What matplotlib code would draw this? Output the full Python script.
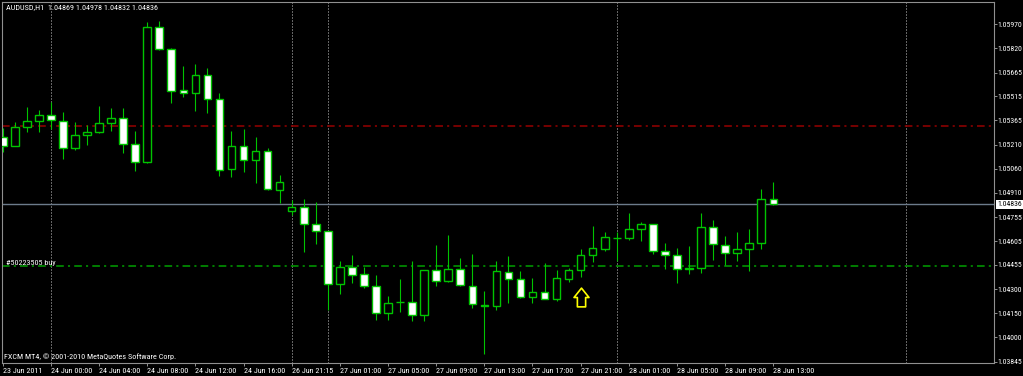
import matplotlib
matplotlib.use("Agg")
import matplotlib.pyplot as plt
import matplotlib.font_manager as fm
from matplotlib.path import Path
from matplotlib.transforms import blended_transform_factory

# narrow font if there is one, else a plain sans that gets sized down below
installed = {f.name for f in fm.fontManager.ttflist}
plt.rcParams["font.family"] = [n for n in ["Liberation Sans Narrow", "Roboto Condensed",
                                           "Liberation Sans", "DejaVu Sans"] if n in installed]
plt.rcParams["lines.scale_dashes"] = False

# AUDUSD H1, bars from 23 Jun 20:00 to 28 Jun 13:00
symbol = "AUDUSD,H1"
opens = [1.05262, 1.05203, 1.05325, 1.05363, 1.05400, 1.05363, 1.05189, 1.05273, 1.05291, 1.05346,
         1.05378, 1.05216, 1.05101, 1.05955, 1.05816, 1.05554, 1.05535, 1.05652, 1.05501, 1.05060,
         1.05203, 1.05113, 1.05174, 1.04926, 1.04796, 1.04817, 1.04710, 1.04668, 1.04332, 1.04439,
         1.04395, 1.04321, 1.04149, 1.04220, 1.04220, 1.04137, 1.04420, 1.04355, 1.04430, 1.04323,
         1.04203, 1.04193, 1.04409, 1.04363, 1.04250, 1.04282, 1.04242, 1.04367, 1.04420, 1.04515,
         1.04556, 1.04626, 1.04626, 1.04678, 1.04712, 1.04540, 1.04515, 1.04426, 1.04433, 1.04695,
         1.04581, 1.04527, 1.04552, 1.04590, 1.04869]
highs = [1.05317, 1.05356, 1.05447, 1.05430, 1.05482, 1.05419, 1.05353, 1.05334, 1.05457, 1.05445,
         1.05445, 1.05298, 1.05983, 1.05991, 1.05818, 1.05707, 1.05718, 1.05695, 1.05539, 1.05298,
         1.05308, 1.05262, 1.05189, 1.05021, 1.04863, 1.04869, 1.04852, 1.04670, 1.04479, 1.04517,
         1.04439, 1.04391, 1.04260, 1.04365, 1.04479, 1.04425, 1.04580, 1.04643, 1.04498, 1.04523,
         1.04290, 1.04481, 1.04510, 1.04418, 1.04374, 1.04468, 1.04422, 1.04437, 1.04552, 1.04701,
         1.04660, 1.04661, 1.04779, 1.04723, 1.04714, 1.04595, 1.04559, 1.04573, 1.04779, 1.04737,
         1.04636, 1.04663, 1.04678, 1.04930, 1.04978]
lows = [1.05167, 1.05203, 1.05293, 1.05293, 1.05308, 1.05119, 1.05178, 1.05210, 1.05283, 1.05300,
        1.05157, 1.05048, 1.05094, 1.05808, 1.05476, 1.05510, 1.05426, 1.05413, 1.05016, 1.05006,
        1.05039, 1.04968, 1.04928, 1.04846, 1.04769, 1.04537, 1.04586, 1.04170, 1.04273, 1.04338,
        1.04307, 1.04107, 1.04107, 1.04159, 1.04103, 1.04103, 1.04321, 1.04345, 1.04321, 1.04185,
        1.03893, 1.04170, 1.04212, 1.04244, 1.04212, 1.04241, 1.04227, 1.04348, 1.04380, 1.04472,
        1.04544, 1.04481, 1.04611, 1.04605, 1.04523, 1.04426, 1.04342, 1.04395, 1.04405, 1.04485,
        1.04452, 1.04477, 1.04418, 1.04552, 1.04832]
closes = [1.05203, 1.05325, 1.05363, 1.05400, 1.05365, 1.05189, 1.05274, 1.05293, 1.05346, 1.05378,
          1.05216, 1.05102, 1.05955, 1.05816, 1.05550, 1.05535, 1.05649, 1.05501, 1.05050, 1.05203,
          1.05113, 1.05174, 1.04931, 1.04978, 1.04821, 1.04710, 1.04668, 1.04332, 1.04439, 1.04392,
          1.04321, 1.04149, 1.04216, 1.04222, 1.04140, 1.04422, 1.04351, 1.04430, 1.04326, 1.04206,
          1.04193, 1.04414, 1.04365, 1.04250, 1.04283, 1.04242, 1.04370, 1.04420, 1.04515, 1.04559,
          1.04628, 1.04627, 1.04678, 1.04710, 1.04544, 1.04515, 1.04426, 1.04437, 1.04695, 1.04584,
          1.04527, 1.04552, 1.04592, 1.04869, 1.04836]

tick_bars = [0, 4, 8, 12, 16, 20, 24, 28, 32, 36, 40, 44, 48, 52, 56, 60, 64]
tick_labels = ["23 Jun 2011", "24 Jun 00:00", "24 Jun 04:00", "24 Jun 08:00", "24 Jun 12:00",
               "24 Jun 16:00", "26 Jun 21:15", "27 Jun 01:00", "27 Jun 05:00", "27 Jun 09:00",
               "27 Jun 13:00", "27 Jun 17:00", "27 Jun 21:00", "28 Jun 01:00", "28 Jun 05:00",
               "28 Jun 09:00", "28 Jun 13:00"]
separator_bars = [4, 24, 27, 51, 75]
price_ticks = [1.05970, 1.05820, 1.05665, 1.05515, 1.05365, 1.05210, 1.05060, 1.04910,
               1.04755, 1.04605, 1.04455, 1.04300, 1.04150, 1.04000, 1.03845]

stop_level = 1.05330
order_level = 1.04450
order_label = "#50223505 buy"
arrow_bar = 48
arrow_price = 1.04254
bid = closes[-1]

green = "#00c400"
txt = "white"
header = f"{symbol}  {opens[-1]:.5f} {highs[-1]:.5f} {lows[-1]:.5f} {closes[-1]:.5f}"

fig = plt.figure(figsize=(10.23, 3.76), dpi=100, facecolor="black")
ax = fig.add_axes([2 / 1023, 13 / 376, 992 / 1023, 361 / 376], facecolor="black")

# size the font so the header line is as wide as in the terminal (~151 px)
probe = fig.text(0, 0, header, fontsize=10)
w = probe.get_window_extent(renderer=fig.canvas.get_renderer()).width
probe.remove()
fs = 10 * 151 / w

# day separators
for b in separator_bars:
    ax.axvline(b, color="#c8c8c8", lw=0.72, linestyle=(0, (0.72, 1.44)), zorder=1)

# order / stop levels
ax.axhline(stop_level, color="#8b0000", lw=1.2, linestyle=(0, (5.5, 3, 1.5, 3)), zorder=1)
ax.axhline(order_level, color="#00a000", lw=1.1, linestyle=(0, (5.5, 3, 1.5, 3)), zorder=1)
ax.axhline(bid, color="#6c7b8b", lw=1.0, zorder=2)

# candles
x = list(range(len(opens)))
bottoms = [min(o, c) for o, c in zip(opens, closes)]
heights = [abs(c - o) for o, c in zip(opens, closes)]
faces = ["white" if c < o else "black" for o, c in zip(opens, closes)]
ax.vlines(x, lows, highs, color=green, lw=0.8, zorder=3)
ax.bar(x, heights, width=0.63, bottom=bottoms, color=faces, edgecolor=green,
       linewidth=1.0, zorder=4)

# buy arrow
arrow = Path([(0, 0.5), (0.4, 0), (0.22, 0), (0.22, -0.5), (-0.22, -0.5), (-0.22, 0),
              (-0.4, 0), (0, 0.5)], closed=True)
ax.plot([arrow_bar], [arrow_price], marker=arrow, markersize=13.5, markerfacecolor="none",
        markeredgecolor="#ffff00", markeredgewidth=1.2, linestyle="none", zorder=5)

ax.set_xlim(-0.06, 82.33)
ax.set_ylim(1.03837, 1.06110)

for s in ax.spines.values():
    s.set_color("#909090")
    s.set_linewidth(0.8)

ax.yaxis.tick_right()
ax.set_yticks(price_ticks)
ax.set_yticklabels([f"{p:.5f}" for p in price_ticks])
ax.tick_params(axis="y", colors="#909090", labelcolor=txt, length=2.2, width=0.7,
               pad=0.6, labelsize=fs * 0.96)
ax.set_xticks(tick_bars)
ax.set_xticklabels(tick_labels, ha="left")
ax.tick_params(axis="x", colors="#909090", labelcolor=txt, length=2.2, width=0.7,
               pad=1.5, labelsize=fs)

# bid price box on the scale
tr = blended_transform_factory(ax.transAxes, ax.transData)
ax.text(1.0035, bid, f"{bid:.5f}", transform=tr, fontsize=fs * 0.96, color="black",
        va="center", ha="left", bbox=dict(facecolor="white", edgecolor="none", pad=1.0),
        zorder=6, clip_on=False)

ax.text(4 / 992, order_level, order_label, transform=tr, fontsize=fs, color=txt,
        va="bottom", ha="left")

fig.text(5.5 / 1023, 1 - 7.5 / 376, header, fontsize=fs, color=txt,
         va="center", ha="left")
fig.text(3.5 / 1023, 1 - 356.5 / 376, "FXCM MT4, \u00a9 2001-2010 MetaQuotes Software Corp.",
         fontsize=fs, color=txt, va="center", ha="left")

fig.savefig("out.png", dpi=100, facecolor="black")
